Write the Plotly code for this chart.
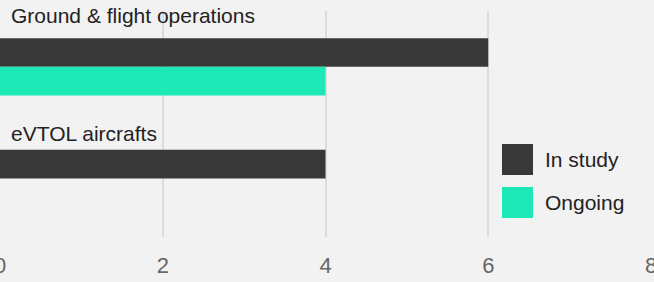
import plotly.graph_objects as go

categories = ["Ground & flight operations", "eVTOL aircrafts"]
series_names = ["In study", "Ongoing"]
in_study = [6, 4]
ongoing = [4, 0]
x_ticks = [0, 2, 4, 6, 8]

colors = {"In study": "#383838", "Ongoing": "#1de9b6"}
FONT = "Liberation Sans, Arial, sans-serif"

fig = go.Figure()
for name, vals in zip(series_names, [in_study, ongoing]):
    fig.add_trace(go.Bar(
        y=categories, x=vals, name=name, orientation="h",
        marker=dict(color=colors[name], line=dict(width=0)),
        showlegend=False, hoverinfo="x+name",
    ))

# category labels above each group
label_shift = [51, 45]
annotations = []
for cat, ys in zip(categories, label_shift):
    annotations.append(dict(
        x=0, y=cat, xref="x", yref="y", text=cat, showarrow=False,
        xanchor="left", yanchor="middle", xshift=9, yshift=ys,
        font=dict(family=FONT, size=21, color="#222222"),
    ))

# custom legend (large square swatches)
shapes = []
legend_rows = [(0.2743, 0.4115, 0.345), (0.0841, 0.2212, 0.153)]
for name, (y0, y1, yt) in zip(series_names, legend_rows):
    shapes.append(dict(type="rect", xref="paper", yref="paper",
                       x0=0.7711, x1=0.8187, y0=y0, y1=y1,
                       fillcolor=colors[name], line=dict(width=0)))
    annotations.append(dict(
        x=0.834, y=yt, xref="paper", yref="paper", text=name, showarrow=False,
        xanchor="left", yanchor="middle",
        font=dict(family=FONT, size=21, color="#222222"),
    ))

fig.update_layout(
    width=654, height=282,
    margin=dict(l=0, r=3, t=11, b=45, autoexpand=False),
    paper_bgcolor="#f2f2f2", plot_bgcolor="#f2f2f2",
    barmode="group", bargap=0.487, bargroupgap=0,
    annotations=annotations, shapes=shapes,
    font=dict(family=FONT),
)
fig.update_xaxes(
    range=[0, 8], tickvals=x_ticks, ticktext=[str(t) for t in x_ticks],
    showgrid=True, gridcolor="#dcdcdc", gridwidth=2,
    zeroline=False, showline=False, ticks="", automargin=False,
    ticklabeloverflow="allow", ticklabelstandoff=13,
    tickfont=dict(family=FONT, size=22, color="#666666"),
)
fig.update_yaxes(
    autorange="reversed", showticklabels=False, showgrid=False,
    zeroline=False, showline=False, ticks="", automargin=False,
)

fig.write_html(
    "out.html",
    config={"displayModeBar": False},
    post_script="document.body.style.margin='0';document.body.style.background='#f2f2f2';",
)
